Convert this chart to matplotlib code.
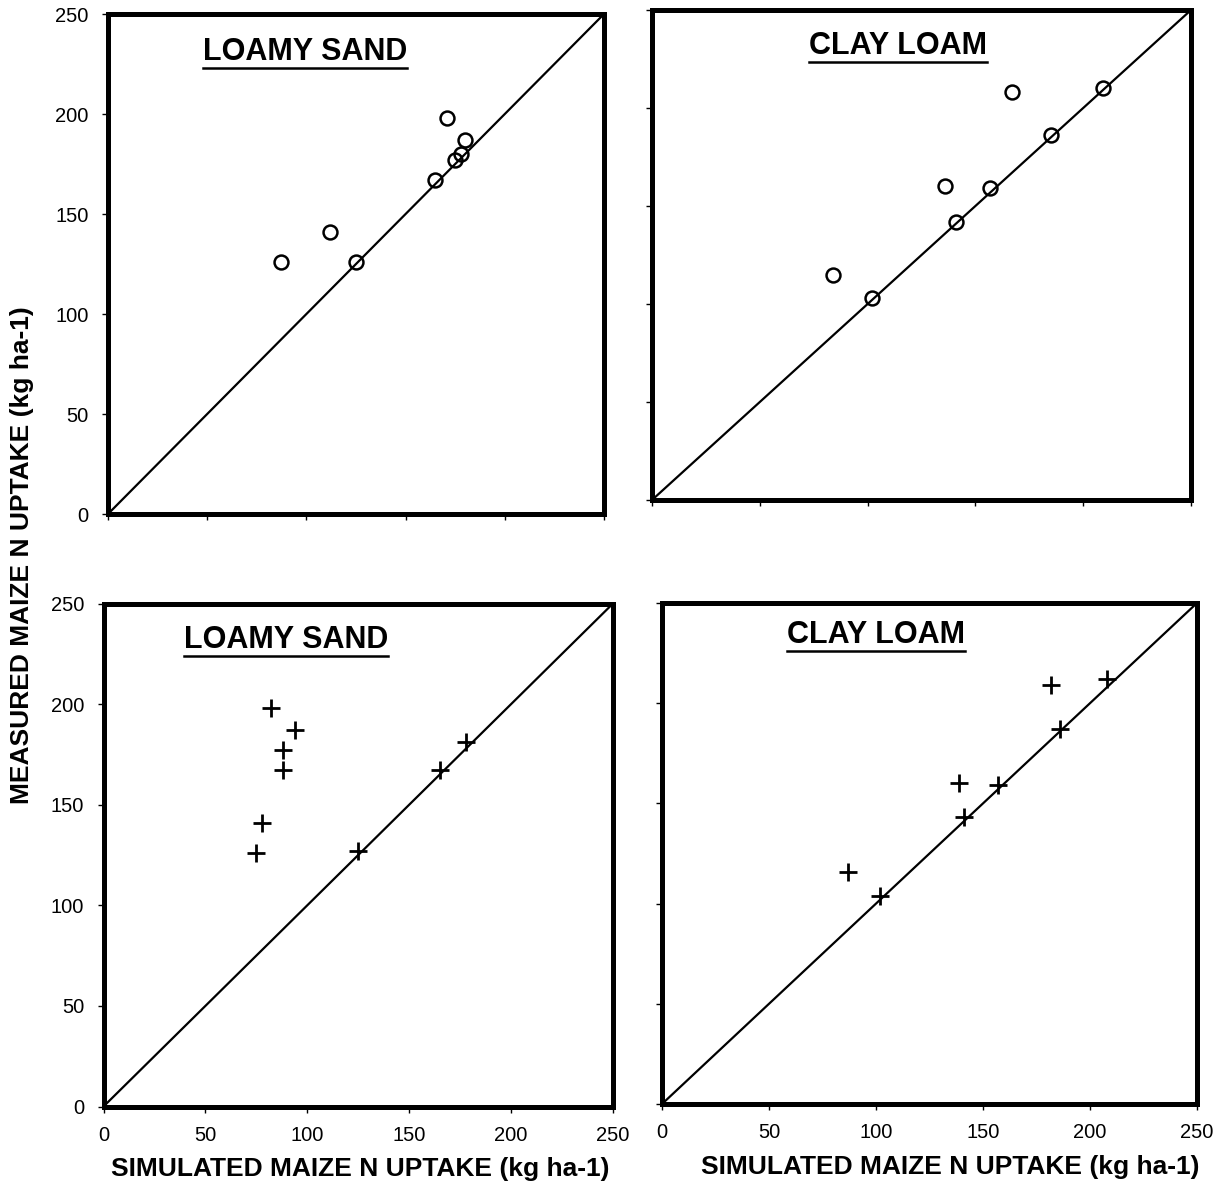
import numpy as np
import matplotlib
matplotlib.use("Agg")
import matplotlib.pyplot as plt
from matplotlib.lines import Line2D

plt.rcParams['font.family'] = ['Liberation Sans', 'DejaVu Sans']

# measured vs simulated N uptake
ls_sim_top = [87, 112, 125, 165, 171, 175, 178, 180]
ls_meas_top = [126, 141, 126, 167, 198, 177, 180, 187]

cl_sim_top = [84, 102, 136, 141, 157, 167, 185, 209]
cl_meas_top = [115, 103, 160, 142, 159, 208, 186, 210]

ls_sim_bot = [82, 94, 88, 88, 78, 75, 125, 165, 178]
ls_meas_bot = [198, 187, 177, 167, 141, 126, 127, 167, 181]

cl_sim_bot = [87, 102, 139, 141, 157, 182, 186, 208]
cl_meas_bot = [116, 104, 160, 143, 159, 209, 187, 212]

ticks = [0, 50, 100, 150, 200, 250]

W, H = 1226, 1191
fig = plt.figure(figsize=(W / 100, H / 100), dpi=100)


def box(l, r, t, b):
    return [l / W, 1 - b / H, (r - l) / W, (b - t) / H]


panels = [
    # (rect, x, y, marker, title, title pos, xlabels, ylabels)
    (box(108, 604, 14, 514), ls_sim_top, ls_meas_top, 'o', 'LOAMY SAND', (0.397, 0.925), False, True),
    (box(652, 1191, 10, 500), cl_sim_top, cl_meas_top, 'o', 'CLAY LOAM', (0.456, 0.926), False, False),
    (box(103.5, 613, 603.5, 1106.5), ls_sim_bot, ls_meas_bot, '+', 'LOAMY SAND', (0.358, 0.928), True, True),
    (box(662, 1197, 603, 1104), cl_sim_bot, cl_meas_bot, '+', 'CLAY LOAM', (0.40, 0.937), True, False),
]

titles = []
for rect, xs, ys, mk, title, tpos, xl, yl in panels:
    ax = fig.add_axes(rect)
    ax.plot([0, 250], [0, 250], color='black', lw=1.6, zorder=2)
    if mk == 'o':
        ax.plot(xs, ys, 'o', ms=10, mfc='none', mec='black', mew=1.8, zorder=3)
    else:
        ax.plot(xs, ys, '+', ms=13, mec='black', mew=2.0, zorder=3)
    ax.set_xlim(0, 250)
    ax.set_ylim(0, 250)
    ax.set_xticks(ticks)
    ax.set_yticks(ticks)
    if not xl:
        ax.set_xticklabels([])
    if not yl:
        ax.set_yticklabels([])
    ax.tick_params(direction='out', length=4, width=1, labelsize=14.5, pad=10)
    for s in ax.spines.values():
        s.set_linewidth(3.6)
    t = ax.text(tpos[0], tpos[1], title, transform=ax.transAxes, ha='center',
                va='center', fontsize=22, fontweight='bold')
    titles.append(t)

# underline the panel titles
fig.canvas.draw()
r = fig.canvas.get_renderer()
for t in titles:
    bb = t.get_window_extent(renderer=r)
    y = (bb.y0 - 1) / H
    fig.add_artist(Line2D([bb.x0 / W, bb.x1 / W], [y, y], color='black', lw=1.8))

fig.text(22 / W, 1 - 555 / H, 'MEASURED MAIZE N UPTAKE (kg ha-1)', rotation=90,
         ha='center', va='center', fontsize=19, fontweight='bold')
fig.text(360 / W, 1 - 1169 / H, 'SIMULATED MAIZE N UPTAKE (kg ha-1)',
         ha='center', va='center', fontsize=19, fontweight='bold')
fig.text(950 / W, 1 - 1167 / H, 'SIMULATED MAIZE N UPTAKE (kg ha-1)',
         ha='center', va='center', fontsize=19, fontweight='bold')

fig.savefig('out.png', dpi=100)
